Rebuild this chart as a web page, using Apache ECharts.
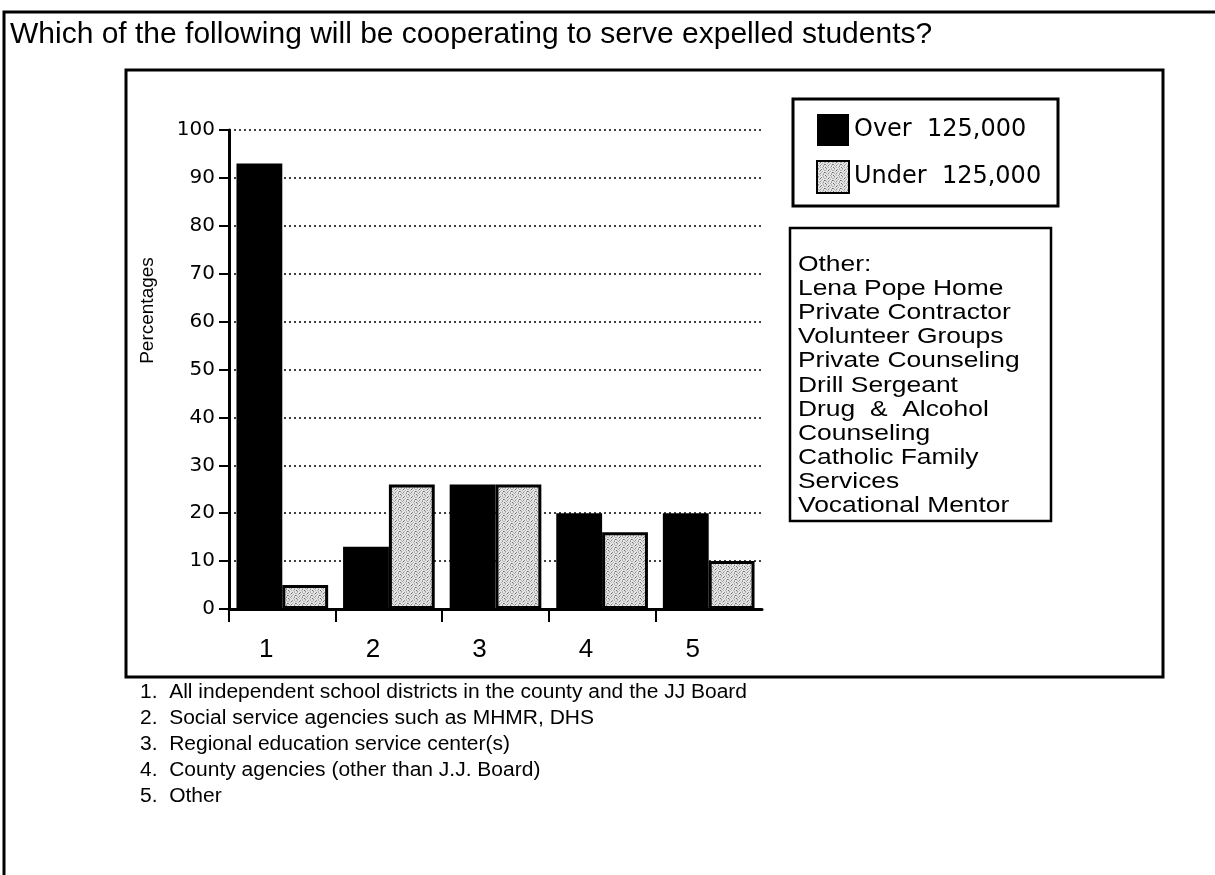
<!DOCTYPE html>
<html>
<head>
<meta charset="utf-8">
<script src="https://cdn.jsdelivr.net/npm/echarts@6/dist/echarts.min.js"></script>
<style>
  html, body { margin: 0; padding: 0; background: #fff; }
  #chart { width: 1215px; height: 875px; }
</style>
</head>
<body>
<div id="chart"></div>
<script>
// ---- data ----
const chartTitle = 'Which of the following will be cooperating to serve expelled students?';
const categories = ['1', '2', '3', '4', '5'];
const seriesNames = ['Over  125,000', 'Under  125,000'];
const over125k = [93, 13, 26, 20, 20];
const under125k = [5, 26, 26, 16, 10];
const yMin = 0, yMax = 100, yStep = 10;
// boundary ticks under the category band (the closing edge carries none)
const xTickPositions = [0, 1, 2, 3, 4];
const otherList = [
  'Other:',
  'Lena Pope Home',
  'Private Contractor',
  'Volunteer Groups',
  'Private Counseling',
  'Drill Sergeant',
  'Drug  &  Alcohol',
  'Counseling',
  'Catholic Family',
  'Services',
  'Vocational Mentor'
];
const categoryNotes = [
  '1.  All independent school districts in the county and the JJ Board',
  '2.  Social service agencies such as MHMR, DHS',
  '3.  Regional education service center(s)',
  '4.  County agencies (other than J.J. Board)',
  '5.  Other'
];

// ---- stippled grey fill for the second series ----
function stippleCanvas() {
  const rows = [
    '.a..b.a.',
    'a..c...a',
    '..a..a..',
    'b...a..c',
    '.a.b..a.',
    '..a...b.',
    'c..a.a..',
    '.b....a.'
  ];
  const shades = { '.': '#e4e4e4', a: '#b2b2b2', b: '#8c8c8c', c: '#6a6a6a' };
  const c = document.createElement('canvas');
  c.width = 8; c.height = 8;
  const ctx = c.getContext('2d');
  rows.forEach((row, y) => {
    for (let x = 0; x < row.length; x++) {
      ctx.fillStyle = shades[row[x]];
      ctx.fillRect(x, y, 1, 1);
    }
  });
  return c;
}
const greyFill = { image: stippleCanvas(), repeat: 'repeat' };

const FONT = '"Liberation Sans", Arial, Helvetica, sans-serif';
const WIDE = '"DejaVu Sans", sans-serif';

// ---- frames and text blocks ----
const graphics = [
  { type: 'polyline', z: 0, shape: { points: [[4, 875], [4, 12], [1215, 12]] },
    style: { stroke: '#000', lineWidth: 3, fill: null } },
  { type: 'text', x: 10, y: 35,
    style: { text: chartTitle, fontFamily: FONT, fontSize: 30, fill: '#000',
             textVerticalAlign: 'middle', verticalAlign: 'middle' } },
  { type: 'rect', z: 0, shape: { x: 126, y: 70, width: 1037, height: 607 },
    style: { fill: null, stroke: '#000', lineWidth: 3 } },
  { type: 'rect', z: 0, shape: { x: 793, y: 99, width: 265, height: 107 },
    style: { fill: null, stroke: '#000', lineWidth: 3 } },
  { type: 'rect', z: 0, shape: { x: 790, y: 228, width: 261, height: 293 },
    style: { fill: null, stroke: '#000', lineWidth: 2.5 } }
];
otherList.forEach((line, i) => {
  graphics.push({ type: 'text', x: 798, y: 265 + i * 24.1, scaleX: 1.2,
    style: { text: line, fontFamily: FONT, fontSize: 22, fill: '#000',
             textVerticalAlign: 'middle', verticalAlign: 'middle' } });
});
categoryNotes.forEach((line, i) => {
  graphics.push({ type: 'text', x: 140, y: 692 + i * 26, scaleX: 1.05,
    style: { text: line, fontFamily: FONT, fontSize: 20, fill: '#000',
             textVerticalAlign: 'middle', verticalAlign: 'middle' } });
});

const chart = echarts.init(document.getElementById('chart'), null, { renderer: 'canvas' });
chart.setOption({
  animation: false,
  backgroundColor: '#fff',
  grid: { left: 229, top: 130, width: 533, height: 479, containLabel: false, outerBoundsMode: 'none' },
  legend: {
    data: seriesNames,
    orient: 'vertical',
    left: 816, top: 114,
    itemWidth: 32, itemHeight: 32, itemGap: 14,
    padding: 0,
    icon: 'rect',
    selectedMode: false,
    textStyle: { fontFamily: WIDE, fontSize: 24, color: '#000' }
  },
  xAxis: [
    {
      type: 'category',
      data: categories,
      axisLine: { show: true, lineStyle: { color: '#000', width: 3 } },
      axisTick: { show: false },
      axisLabel: { color: '#000', fontFamily: FONT, fontSize: 26, margin: 28, padding: [0, 32, 0, 0] },
      splitLine: { show: false }
    },
    {
      // tick marks only, one at each band boundary except the closing one
      type: 'value',
      min: 0, max: categories.length,
      position: 'bottom',
      axisLine: { show: false },
      axisLabel: { show: false },
      splitLine: { show: false },
      axisTick: { show: true, length: 13, customValues: xTickPositions,
                  lineStyle: { color: '#000', width: 2 } }
    }
  ],
  yAxis: {
    type: 'value',
    min: yMin, max: yMax, interval: yStep,
    name: 'Percentages',
    nameLocation: 'middle',
    nameRotate: 90,
    nameGap: 72,
    nameTextStyle: { fontFamily: FONT, fontSize: 19, color: '#000', padding: [0, 0, 0, 118] },
    axisLine: { show: true, lineStyle: { color: '#000', width: 3 } },
    axisTick: { show: true, length: 10, lineStyle: { color: '#000', width: 2 } },
    axisLabel: { color: '#000', fontFamily: WIDE, fontSize: 20, margin: 14 },
    splitLine: { show: true, lineStyle: { type: [2, 3], color: '#000', width: 1.5 } }
  },
  series: [
    {
      name: seriesNames[0], type: 'bar', data: over125k, xAxisIndex: 0,
      barGap: '0%', barCategoryGap: '14%',
      itemStyle: { color: '#000', borderColor: '#000', borderWidth: 0 }
    },
    {
      name: seriesNames[1], type: 'bar', data: under125k, xAxisIndex: 0,
      barGap: '0%', barCategoryGap: '14%',
      itemStyle: { color: greyFill, borderColor: '#000', borderWidth: 3 }
    }
  ],
  graphic: { elements: graphics }
});
</script>
</body>
</html>
